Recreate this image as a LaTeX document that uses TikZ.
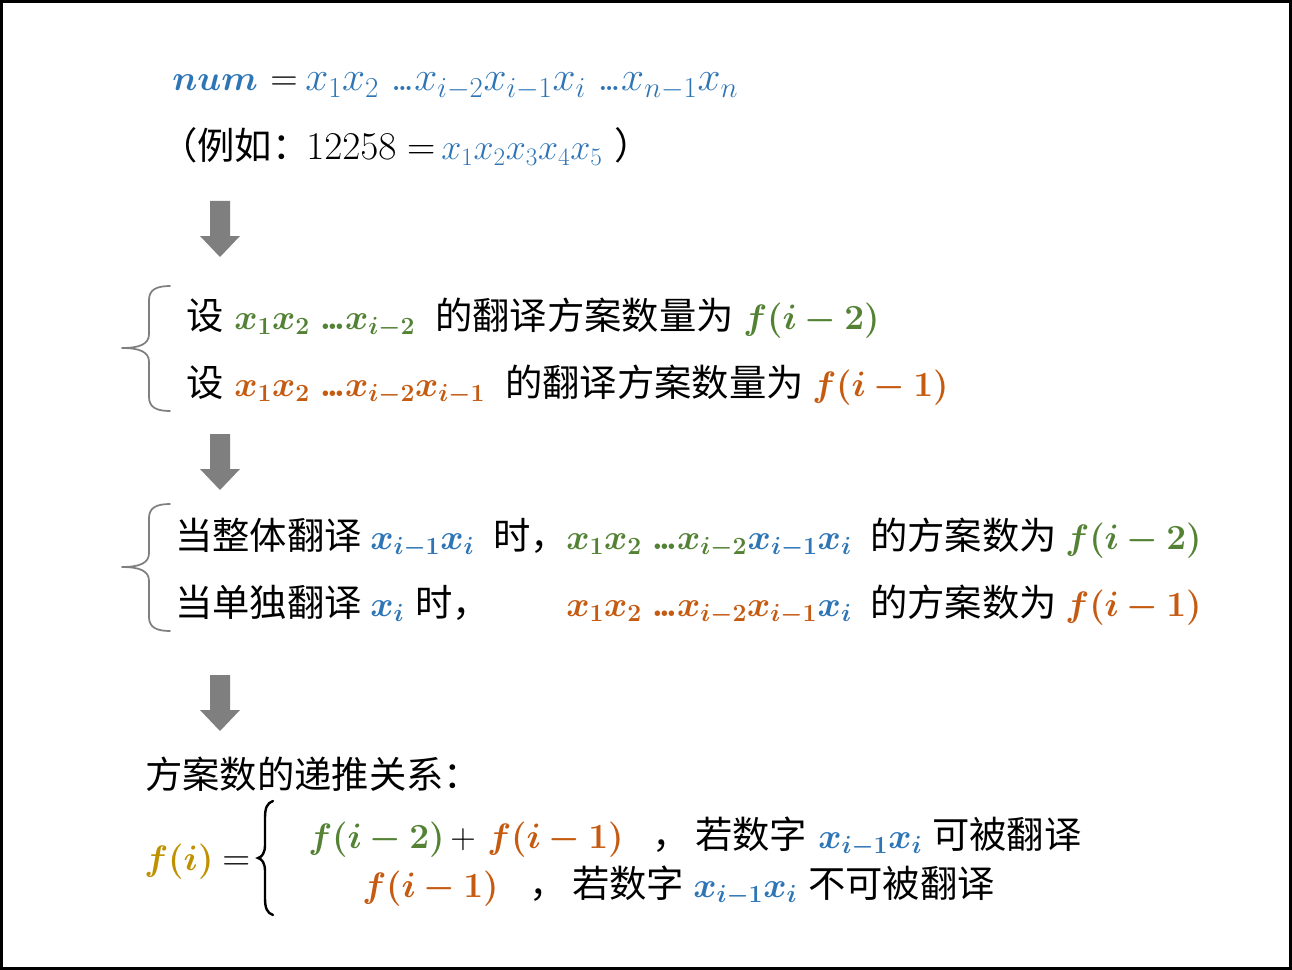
\RequirePackage{fix-cm}
\documentclass[tikz,border=0pt]{standalone}
\usepackage{amsmath,bm}
\usepackage{fontspec}
\newfontfamily\cjk{Noto Sans CJK SC}
\definecolor{cblue}{HTML}{2E75B6}
\definecolor{cgreen}{HTML}{548235}
\definecolor{corange}{HTML}{C55A11}
\definecolor{cgold}{HTML}{BF9000}
\definecolor{cgray}{HTML}{7F7F7F}
\newcommand{\tdots}{\mathord{.\kern-0.12em.\kern-0.12em.}}
\tikzset{
  txt/.style={anchor=base west, inner sep=0pt, font=\fontsize{28}{34}\selectfont},
  mth/.style={anchor=base west, inner sep=0pt, font=\fontsize{26.5}{32}\selectfont},
  zh/.style={anchor=base west, inner sep=0pt, font=\fontsize{28}{34}\selectfont\cjk},
  blockarrow/.style={fill=cgray, draw=none},
  bracepath/.style={draw=cgray, line width=1.3pt, line cap=round, line join=round},
}
\begin{document}
\begin{tikzpicture}[x=0.75pt, y=-0.75pt]
\useasboundingbox (0,0) rectangle (1292,970);
\draw[line width=2.2pt] (1.5,1.5) rectangle (1290.5,968.5);

% line 1
\node[mth, font=\fontsize{26.5}{34}\selectfont] (l1a) at (172,91) {$\color{cblue}\bm{num}$};
\node[mth, font=\fontsize{28.5}{34}\selectfont] (l1b) at (270,91) {$=$};
\node[mth, font=\fontsize{31}{36}\selectfont] (l1c) at (305,91) {$\color{cblue}x_1x_2\;\tdots x_{i-2}x_{i-1}x_i\;\tdots x_{n-1}x_n$};
% line 2
\node[zh] (l2a) at (160,160) {（例如：};
\node[mth, font=\fontsize{29.5}{36}\selectfont] (l2b) at (306,160) {$12258 =$};
\node[mth, font=\fontsize{27}{32}\selectfont] (l2c) at (441,160) {$\textcolor{cblue}{x_1x_2x_3x_4x_5}$};
\node[zh] (l2d) at (614,160) {）};

% arrow 1
\fill[blockarrow] (210,201) -- (230,201) -- (230,236) -- (240,236) -- (220,257) -- (200,236) -- (210,236) -- cycle;

% brace 1
\draw[bracepath] (170,286) .. controls (156,286) and (149,290) .. (149,300) -- (149,334) .. controls (149,344) and (140,348) .. (122,348) .. controls (140,348) and (149,352) .. (149,362) -- (149,397) .. controls (149,407) and (156,411) .. (170,411);

% line 3
\node[zh] (l3a) at (186,329) {设};
\node[mth] (l3b) at (234,329) {$\color{cgreen}\bm{x_1x_2\;\tdots x_{i-2}}$};
\node[zh] (l3c) at (435,329) {的翻译方案数量为};
\node[mth] (l3d) at (743,329) {$\color{cgreen}\bm{f(i-2)}$};
% line 4
\node[zh] (l4a) at (186,396) {设};
\node[mth] (l4b) at (234,396) {$\color{corange}\bm{x_1x_2\;\tdots x_{i-2}x_{i-1}}$};
\node[zh] (l4c) at (505,396) {的翻译方案数量为};
\node[mth] (l4d) at (812,396) {$\color{corange}\bm{f(i-1)}$};

% arrow 2
\fill[blockarrow] (210,434) -- (230,434) -- (230,469) -- (240,469) -- (220,490) -- (200,469) -- (210,469) -- cycle;

% brace 2
\draw[bracepath] (170,504) .. controls (156,504) and (149,508) .. (149,518) -- (149,553) .. controls (149,563) and (140,567) .. (122,567) .. controls (140,567) and (149,571) .. (149,581) -- (149,617) .. controls (149,627) and (156,631) .. (170,631);

% line 5
\node[zh] (l5a) at (175,549) {当整体翻译};
\node[mth] (l5b) at (370,549) {$\color{cblue}\bm{x_{i-1}x_i}$};
\node[zh] (l5c) at (493,549) {时，};
\node[mth] (l5d) at (566,549) {$\color{cgreen}\bm{x_1x_2\;\tdots x_{i-2}}$};
\node[mth] (l5e) at (l5d.base east) {$\color{cblue}\bm{x_{i-1}x_i}$};
\node[zh] (l5f) at (870,549) {的方案数为};
\node[mth] (l5g) at (1065,549) {$\color{cgreen}\bm{f(i-2)}$};
% line 6
\node[zh] (l6a) at (175,616) {当单独翻译};
\node[mth] (l6b) at (370,616) {$\color{cblue}\bm{x_i}$};
\node[zh] (l6c) at (415,616) {时，};
\node[mth] (l6d) at (566,616) {$\color{corange}\bm{x_1x_2\;\tdots x_{i-2}x_{i-1}}$};
\node[mth] (l6e) at (l6d.base east) {$\color{cblue}\bm{x_i}$};
\node[zh] (l6f) at (870,616) {的方案数为};
\node[mth] (l6g) at (1065,616) {$\color{corange}\bm{f(i-1)}$};

% arrow 3
\fill[blockarrow] (210,675) -- (230,675) -- (230,710) -- (240,710) -- (220,731) -- (200,710) -- (210,710) -- cycle;

% line 7
\node[zh] (l7) at (145,788) {方案数的递推关系：};
% line 8
\node[mth] (fi) at (144,870) {$\color{cgold}\bm{f(i)}$};
\node[mth, font=\fontsize{29}{34}\selectfont] (eq) at (222,870) {$=$};
\draw[line width=1.8pt, line cap=round] (273,801) .. controls (267,803) and (265,808) .. (265,818) -- (265,845) .. controls (265,853) and (262,857) .. (258,858) .. controls (262,859) and (265,863) .. (265,871) -- (265,898) .. controls (265,908) and (267,913) .. (273,915);
\node[mth] (r1a) at (308,848) {$\color{cgreen}\bm{f(i-2)}$};
\node[mth] (r1b) at (450,848) {$+$};
\node[mth] (r1c) at (487,848) {$\color{corange}\bm{f(i-1)}$};
\node[zh] (r1d) at (652,848) {，};
\node[zh] (r1e) at (695,848) {若数字};
\node[mth] (r1f) at (818,848) {$\color{cblue}\bm{x_{i-1}x_i}$};
\node[zh] (r1g) at (932,848) {可被翻译};
\node[mth] (r2a) at (362,897) {$\color{corange}\bm{f(i-1)}$};
\node[zh] (r2b) at (529,897) {，};
\node[zh] (r2c) at (572,897) {若数字};
\node[mth] (r2d) at (693,897) {$\color{cblue}\bm{x_{i-1}x_i}$};
\node[zh] (r2e) at (808,897) {不可被翻译};
\end{tikzpicture}
\end{document}
